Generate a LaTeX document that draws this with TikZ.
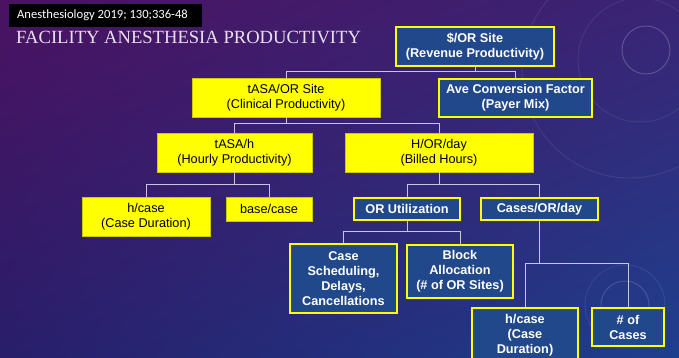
\documentclass[tikz,border=0pt]{standalone}
\usepackage{fontspec}
\setmainfont{Liberation Sans}
\newfontfamily\titlefont{Liberation Serif}
\newfontfamily\notefont{Carlito}
\usetikzlibrary{shadings}
\definecolor{navy}{HTML}{21488A}
\definecolor{gold}{HTML}{FFFF00}
\definecolor{edge}{HTML}{D2C600}
\definecolor{link}{HTML}{C9C4E0}
\definecolor{title}{HTML}{E8E0F2}
\definecolor{bgtl}{HTML}{4B1262}
\definecolor{bgtr}{HTML}{3A2474}
\definecolor{bgbl}{HTML}{281E6A}
\definecolor{bgbr}{HTML}{1E3F8E}

\begin{document}
\begin{tikzpicture}[x=1pt,y=-1pt,
ybox/.style={draw=edge,fill=gold,line width=.8pt,inner sep=0pt,align=center,font=\fontsize{12.7}{15}\selectfont},
nbox/.style={draw=gold,fill=navy,line width=1.3pt,inner sep=0pt,align=center,text=white,font=\bfseries\fontsize{12.7}{15}\selectfont},
wire/.style={draw=link,line width=1pt}]
\useasboundingbox (0,0) rectangle (679,358);
\clip (0,0) rectangle (679,358);
\shade[upper left=bgtl,upper right=bgtr,lower left=bgbl,lower right=bgbr] (0,0) rectangle (679,358);
% faint rings of the slide template
\draw[white,opacity=.2,line width=1pt] (646,50) circle (24);
\draw[white,opacity=.08,line width=1pt] (640,60) circle (62);
\draw[white,opacity=.08,line width=1pt] (630,70) circle (108);
\draw[white,opacity=.15,line width=1pt] (625,305) circle (24);
\draw[white,opacity=.08,line width=1pt] (625,305) circle (40);

\node[fill=black,text=white,font=\notefont\fontsize{12.6}{14}\selectfont,minimum width=192,minimum height=23,inner xsep=8pt,inner ysep=0pt,anchor=west] (ref) at (9,15.5) {Anesthesiology 2019; 130;336-48\hspace*{6pt}};
\node[anchor=base west,inner sep=0pt,text=title,font=\titlefont\fontsize{18.6}{20}\selectfont] (head) at (16,43.3) {FACILITY ANESTHESIA PRODUCTIVITY};

\node[nbox,minimum width=158,minimum height=39] (rev) at (475,46.5) {\$/OR Site\\(Revenue Productivity)};
\node[nbox,minimum width=153,minimum height=38] (conv) at (515.5,98) {Ave Conversion Factor\\(Payer Mix)};
\node[ybox,minimum width=188,minimum height=39] (clin) at (286,97.5) {tASA/OR Site\\(Clinical Productivity)};
\node[ybox,minimum width=155,minimum height=39] (hourly) at (234.5,152.5) {tASA/h\\(Hourly Productivity)};
\node[ybox,minimum width=188,minimum height=39] (billed) at (439,152.5) {H/OR/day\\(Billed Hours)};
\node[ybox,minimum width=128,minimum height=39] (hcase) at (146,216.5) {h/case\\(Case Duration)};
\node[ybox,minimum width=86,minimum height=24] (base) at (269,209) {base/case};
\node[nbox,minimum width=106,minimum height=22] (util) at (407,209) {OR Utilization};
\node[nbox,minimum width=117,minimum height=22] (cases) at (539.5,209) {Cases/OR/day};
\node[nbox,minimum width=107,minimum height=69] (sched) at (343.5,278.5) {Case\\Scheduling,\\Delays,\\Cancellations};
\node[nbox,minimum width=106,minimum height=53] (block) at (460,271.5) {Block\\Allocation\\(\# of OR Sites)};
\node[nbox,minimum width=106,minimum height=55] (dur) at (525,335.5) {h/case\\(Case\\Duration)};
\node[nbox,minimum width=72,minimum height=38] (ncases) at (628,327) {\# of\\Cases};

\draw[wire] (rev.south) -- ++(0,5) -| (clin.north);
\draw[wire] (rev.south) -- ++(0,5) -| (conv.north);
\draw[wire] (clin.south) -- ++(0,6) -| (hourly.north);
\draw[wire] (clin.south) -- ++(0,6) -| (billed.north);
\draw[wire] (hourly.south) -- ++(0,12) -| (hcase.north);
\draw[wire] (hourly.south) -- ++(0,12) -| (base.north);
\draw[wire] (billed.south) -- ++(0,12) -| (util.north);
\draw[wire] (billed.south) -- ++(0,12) -| (cases.north);
\draw[wire] (util.south) -- ++(0,11) -| (sched.north);
\draw[wire] (util.south) -- ++(0,11) -| (block.north);
\draw[wire] (cases.south) -- ++(0,43) -| (dur.north);
\draw[wire] (cases.south) -- ++(0,43) -| (ncases.north);
\end{tikzpicture}
\end{document}
